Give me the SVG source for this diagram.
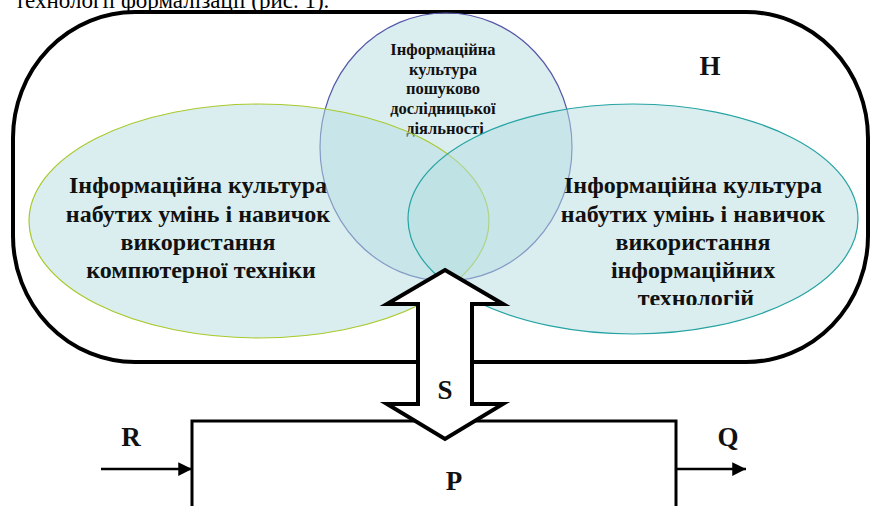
<svg xmlns="http://www.w3.org/2000/svg" width="871" height="506" viewBox="0 0 871 506">
  <style>
    .caption { font-family: "Liberation Serif", "Times New Roman", serif; font-size: 23px; fill: #000; }
    .lbl { font-family: "Liberation Serif", "Times New Roman", serif; font-weight: bold; fill: #111; text-anchor: middle; }
    .big { font-size: 24px; }
    .small { font-size: 16.5px; }
    .letter { font-size: 27px; }
    .set { fill: #B5DDE2; fill-opacity: 0.5; stroke-width: 1.2; }
    .line { stroke: #000; stroke-width: 3; fill: none; }
  </style>
  <defs>
    <marker id="head" viewBox="0 0 10 10" refX="10" refY="5" markerWidth="5.5" markerHeight="6" orient="auto" markerUnits="strokeWidth">
      <path d="M0,0 L10,5 L0,10 Z" fill="#000"/>
    </marker>
    <clipPath id="rightTextClip">
      <rect x="520" y="160" width="340" height="145"/>
    </clipPath>
  </defs>
  <rect width="871" height="506" fill="#fff"/>

  <!-- end of the preceding paragraph -->
  <text class="caption" x="15" y="8">технології формалізації (рис. 1).</text>

  <!-- set H -->
  <g id="setH">
    <rect x="13" y="12" width="855" height="350" rx="122" ry="126" fill="none" stroke="#000" stroke-width="4"/>
    <text class="lbl letter" x="710" y="75">H</text>
  </g>

  <!-- search and research activity -->
  <g id="research">
    <ellipse class="set" cx="446" cy="147" rx="126" ry="134" stroke="#5558A8"/>
    <text class="lbl small">
      <tspan x="445" y="55">Інформаційна</tspan>
      <tspan x="445" y="75">культура</tspan>
      <tspan x="445" y="94">пошуково</tspan>
      <tspan x="445" y="114">дослідницької</tspan>
      <tspan x="445" y="134">діяльності</tspan>
    </text>
  </g>

  <!-- computer hardware skills -->
  <g id="hardware">
    <ellipse class="set" cx="259" cy="221" rx="230" ry="117" stroke="#A8C92C"/>
  </g>

  <!-- information technology skills -->
  <g id="infotech">
    <ellipse class="set" cx="633" cy="219" rx="225" ry="115" stroke="#26A3A3"/>
  </g>

  <g id="hardwareText">
    <text class="lbl big">
      <tspan x="201" y="193">Інформаційна культура</tspan>
      <tspan x="201" y="222">набутих умінь і навичок</tspan>
      <tspan x="201" y="250">використання</tspan>
      <tspan x="201" y="278">компютерної техніки</tspan>
    </text>
  </g>
  <g id="infotechText" clip-path="url(#rightTextClip)">
    <text class="lbl big">
      <tspan x="696" y="193">Інформаційна культура</tspan>
      <tspan x="696" y="222">набутих умінь і навичок</tspan>
      <tspan x="696" y="250">використання</tspan>
      <tspan x="696" y="278">інформаційних</tspan>
      <tspan x="696" y="306">технологій</tspan>
    </text>
  </g>

  <!-- process P -->
  <g id="processP">
    <rect x="192" y="421" width="484" height="120" class="line"/>
    <text class="lbl letter" x="454" y="490">P</text>
  </g>

  <g id="connectors">
    <!-- input R -->
    <line x1="101" y1="469" x2="192" y2="469" stroke="#000" stroke-width="2.5" marker-end="url(#head)"/>
    <text class="lbl letter" x="131" y="446">R</text>
    <!-- output Q -->
    <line x1="676" y1="469" x2="746" y2="469" stroke="#000" stroke-width="2.5" marker-end="url(#head)"/>
    <text class="lbl letter" x="728" y="446">Q</text>
    <!-- exchange S between H and P -->
    <polygon points="445,270 503,304 472,304 472,404 503,404 445,439 387,404 418,404 418,304 387,304" fill="#fff" stroke="#000" stroke-width="4" stroke-linejoin="miter"/>
    <text class="lbl letter" x="445" y="399">S</text>
  </g>
</svg>
